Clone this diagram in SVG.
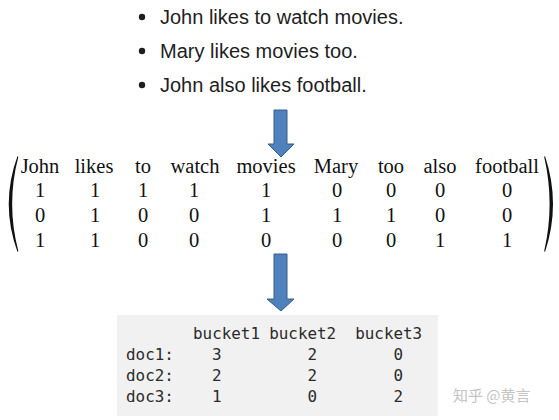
<svg xmlns="http://www.w3.org/2000/svg" width="559" height="420" viewBox="0 0 559 420">
<style>
.bul{font-family:"Liberation Sans",Arial,sans-serif;font-size:20px;fill:#1e1e1e}
.mx{font-family:"Liberation Serif","Times New Roman",serif;font-size:20.5px;fill:#111;text-anchor:middle}
.code{font-family:"DejaVu Sans Mono","Liberation Mono",monospace;font-size:15.9px;fill:#2a2a2a}
.arrow{fill:#4f81bd;stroke:#385d8a;stroke-width:1}
.wm{font-family:"Noto Sans CJK SC",sans-serif;font-size:15px;fill:#c4c4c4}
</style>
<rect width="559" height="420" fill="#ffffff"/>
<g id="sentences">
<circle cx="142" cy="17" r="3.2" fill="#1e1e1e"/>
<circle cx="142" cy="51" r="3.2" fill="#1e1e1e"/>
<circle cx="142" cy="85" r="3.2" fill="#1e1e1e"/>
<text class="bul" x="160" y="24">John likes to watch movies.</text>
<text class="bul" x="160" y="58">Mary likes movies too.</text>
<text class="bul" x="160" y="92">John also likes football.</text>
</g>
<g id="connectors">
<polygon class="arrow" points="274,110 287,110 287,144 294,144 281,157 268,144 274,144"/>
<polygon class="arrow" points="274,254 287,254 287,299 294,299 281,311 267,299 274,299"/>
</g>
<g id="matrix">
<path d="M17.5,156 Q0,204 17.5,252 L18.3,251 Q6,204 18.3,157 Z" fill="#111"/>
<path d="M545,156 Q561,204 545,252 L544.2,251 Q555,204 544.2,157 Z" fill="#111"/>
<text class="mx" y="173"><tspan x="40">John</tspan><tspan x="94">likes</tspan><tspan x="143">to</tspan><tspan x="195">watch</tspan><tspan x="266">movies</tspan><tspan x="336">Mary</tspan><tspan x="391">too</tspan><tspan x="440">also</tspan><tspan x="507">football</tspan></text>
<text class="mx" y="197"><tspan x="40">1</tspan><tspan x="95">1</tspan><tspan x="143">1</tspan><tspan x="194">1</tspan><tspan x="266">1</tspan><tspan x="337">0</tspan><tspan x="391">0</tspan><tspan x="440">0</tspan><tspan x="507">0</tspan></text>
<text class="mx" y="222"><tspan x="40">0</tspan><tspan x="95">1</tspan><tspan x="143">0</tspan><tspan x="194">0</tspan><tspan x="266">1</tspan><tspan x="337">1</tspan><tspan x="391">1</tspan><tspan x="440">0</tspan><tspan x="507">0</tspan></text>
<text class="mx" y="247"><tspan x="40">1</tspan><tspan x="95">1</tspan><tspan x="143">0</tspan><tspan x="194">0</tspan><tspan x="266">0</tspan><tspan x="337">0</tspan><tspan x="391">0</tspan><tspan x="440">1</tspan><tspan x="507">1</tspan></text>
</g>
<g id="buckets">
<rect x="117" y="315" width="321" height="101" fill="#f1f1f1"/>
<text class="code" y="339"><tspan x="193">bucket1</tspan><tspan x="269.2">bucket2</tspan><tspan x="355.2">bucket3</tspan></text>
<text class="code" y="360"><tspan x="126">doc1:</tspan><tspan x="212">3</tspan><tspan x="307.5">2</tspan><tspan x="393.4">0</tspan></text>
<text class="code" y="381"><tspan x="126">doc2:</tspan><tspan x="212">2</tspan><tspan x="307.5">2</tspan><tspan x="393.4">0</tspan></text>
<text class="code" y="402"><tspan x="126">doc3:</tspan><tspan x="212">1</tspan><tspan x="307.5">0</tspan><tspan x="393.4">2</tspan></text>
</g>
<text class="wm" x="453" y="401">知乎 @黄言</text>
</svg>
